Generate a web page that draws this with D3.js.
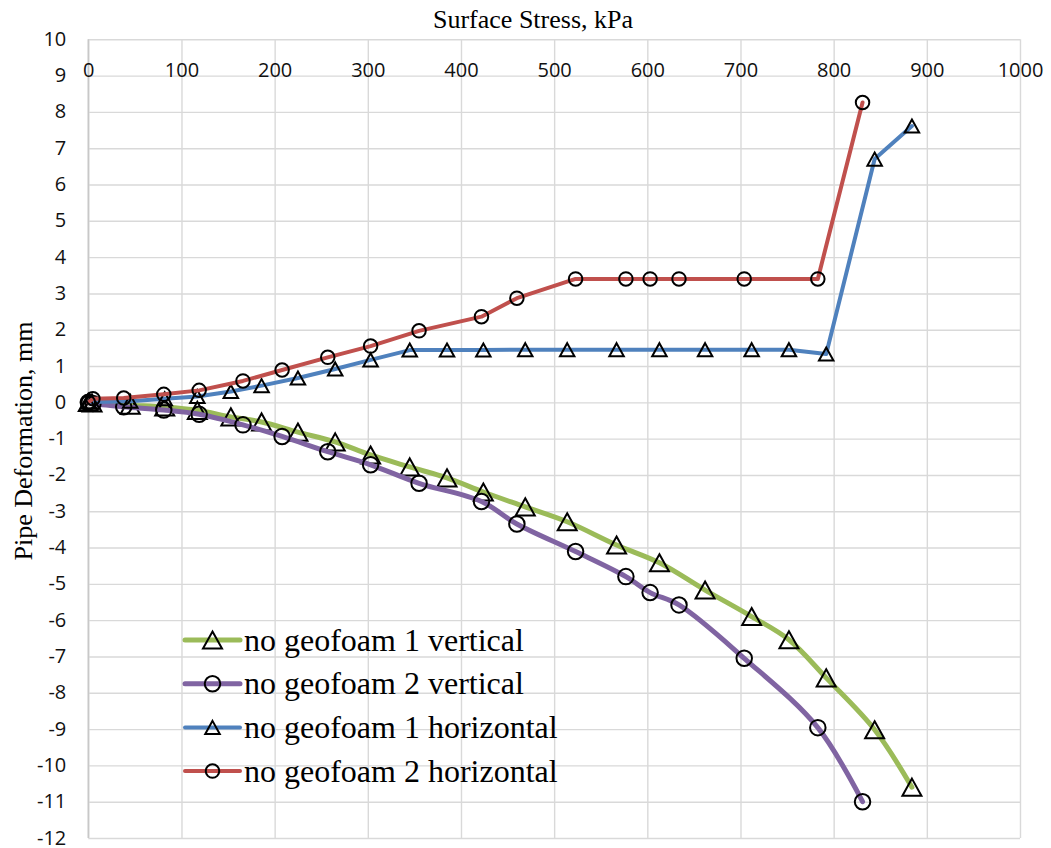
<!DOCTYPE html>
<html>
<head>
<meta charset="utf-8">
<script src="https://cdn.jsdelivr.net/npm/d3@7"></script>
<style>
	body { margin: 0; background: #fff; }
	.tick-lbl text { font-family: "Open Sans", sans-serif; font-size: 20px; fill: #111; }
	.serif { font-family: "Times New Roman", "Liberation Serif", serif; fill: #000; }
</style>
</head>
<body>
<div id="chart"></div>
<script>
// Surface stress (kPa) for the "no geofoam 1" test
const stress1 = [0, 4, 45, 82, 117, 153, 186, 225, 265, 303, 345, 385, 424, 469, 514, 567, 613, 662, 712, 752, 792, 844, 884];
const vertical1 = [0, -0.02, -0.08, -0.13, -0.22, -0.4, -0.54, -0.82, -1.09, -1.45, -1.78, -2.08, -2.47, -2.88, -3.29, -3.93, -4.42, -5.17, -5.9, -6.54, -7.59, -9.02, -10.6];
const horizontal1 = [0, 0.01, 0.03, 0.1, 0.16, 0.3, 0.46, 0.67, 0.92, 1.17, 1.44, 1.44, 1.44, 1.45, 1.45, 1.45, 1.45, 1.45, 1.45, 1.45, 1.33, 6.7, 7.61];

// Surface stress (kPa) for the "no geofoam 2" test
const stress2 = [0, 5, 38, 81, 119, 166, 208, 257, 303, 355, 422, 460, 523, 577, 603, 634, 704, 783, 831];
const vertical2 = [0, -0.03, -0.12, -0.21, -0.33, -0.62, -0.94, -1.36, -1.72, -2.23, -2.73, -3.35, -4.11, -4.8, -5.24, -5.58, -7.05, -8.96, -11.0];
const horizontal2 = [0, 0.1, 0.12, 0.22, 0.33, 0.59, 0.89, 1.24, 1.55, 1.97, 2.36, 2.87, 3.4, 3.4, 3.4, 3.4, 3.4, 3.4, 8.26];

const xTicks = d3.range(0, 1001, 100);
const yTicks = d3.range(-12, 11, 1);

const seriesNames = ["no geofoam 1 vertical", "no geofoam 2 vertical", "no geofoam 1 horizontal", "no geofoam 2 horizontal"];

var width = 1051;
var height = 848;
var margin = { top: 39.3, right: 31, bottom: 10, left: 88.3 };

var series = [
	{ name: seriesNames[0], xs: stress1, ys: vertical1, color: "#9BBB59", lw: 5, marker: "tri", size: 19, smooth: true },
	{ name: seriesNames[1], xs: stress2, ys: vertical2, color: "#8064A2", lw: 5, marker: "circle", size: 15.5, smooth: true },
	{ name: seriesNames[2], xs: stress1, ys: horizontal1, color: "#4F81BD", lw: 4, marker: "tri", size: 14.5, smooth: false },
	{ name: seriesNames[3], xs: stress2, ys: horizontal2, color: "#C0504D", lw: 4, marker: "circle", size: 13.5, smooth: false },
];

var svg = d3.select("#chart").append("svg")
	.attr("width", width)
	.attr("height", height);

var x = d3.scaleLinear().domain([0, 1000]).range([margin.left, width - margin.right]);
var y = d3.scaleLinear().domain([-12, 10]).range([height - margin.bottom, margin.top]);

// plain labels, hyphen minus like the original
var plain = function(d) { return String(d); };

// gridlines
svg.append("g")
	.attr("transform", "translate(0," + margin.top + ")")
	.call(d3.axisBottom(x).tickValues(xTicks).tickSize(y(-12) - margin.top).tickFormat(""))
	.call(g => g.select(".domain").remove())
	.selectAll("line").attr("stroke", "#D9D9D9").attr("stroke-width", 1.4);

svg.append("g")
	.attr("transform", "translate(" + margin.left + ",0)")
	.call(d3.axisRight(y).tickValues(yTicks).tickSize(x(1000) - margin.left).tickFormat(""))
	.call(g => g.select(".domain").remove())
	.selectAll("line").attr("stroke", "#D9D9D9").attr("stroke-width", 1.4);

// vertical axis line
svg.append("line")
	.attr("x1", x(0)).attr("x2", x(0))
	.attr("y1", y(10)).attr("y2", y(-12))
	.attr("stroke", "#C8C8C8").attr("stroke-width", 1.6);

// tick labels
svg.append("g")
	.attr("class", "tick-lbl")
	.attr("transform", "translate(0," + margin.top + ")")
	.call(d3.axisBottom(x).tickValues(xTicks).tickSize(0).tickPadding(24).tickFormat(plain))
	.call(g => g.select(".domain").remove())
	.selectAll("text").attr("font-size", null).attr("font-family", null);

svg.append("g")
	.attr("class", "tick-lbl")
	.attr("transform", "translate(" + margin.left + ",0)")
	.call(d3.axisLeft(y).tickValues(yTicks).tickSize(0).tickPadding(22).tickFormat(plain))
	.call(g => g.select(".domain").remove())
	.selectAll("text").attr("font-size", null).attr("font-family", null).attr("dy", "0.3em");

// markers
function markerPath(type, size) {
	if (type === "tri") {
		var w = size, h = size * 0.9;
		return "M0," + (-h / 2) + "L" + (w / 2) + "," + (h / 2) + "L" + (-w / 2) + "," + (h / 2) + "Z";
	}
	var r = size / 2;
	return "M" + r + ",0A" + r + "," + r + " 0 1,1 " + (-r) + ",0A" + r + "," + r + " 0 1,1 " + r + ",0Z";
}

series.forEach(function(s) {
	var pts = s.xs.map(function(d, i) { return [d, s.ys[i]]; });
	var line = d3.line()
		.x(d => x(d[0]))
		.y(d => y(d[1]))
		.curve(s.smooth ? d3.curveCatmullRom.alpha(0.5) : d3.curveLinear);

	svg.append("path")
		.datum(pts)
		.attr("d", line)
		.attr("fill", "none")
		.attr("stroke", s.color)
		.attr("stroke-width", s.lw)
		.attr("stroke-linejoin", "round")
		.attr("stroke-linecap", "round");

	svg.append("g").selectAll("path")
		.data(pts)
		.join("path")
		.attr("d", markerPath(s.marker, s.size))
		.attr("transform", d => "translate(" + x(d[0]) + "," + y(d[1]) + ")")
		.attr("fill", "none")
		.attr("stroke", "#000")
		.attr("stroke-width", 2);
});

// legend
var legend = svg.append("g").attr("transform", "translate(185,640)");
series.forEach(function(s, i) {
	var row = legend.append("g").attr("transform", "translate(0," + (i * 43.7) + ")");
	row.append("line")
		.attr("x1", 0).attr("x2", 55)
		.attr("stroke", s.color).attr("stroke-width", s.lw)
		.attr("stroke-linecap", "round");
	row.append("path")
		.attr("d", markerPath(s.marker, s.size))
		.attr("transform", "translate(27.5,0)")
		.attr("fill", "none").attr("stroke", "#000").attr("stroke-width", 2);
	row.append("text")
		.attr("class", "serif")
		.attr("x", 59)
		.attr("y", 10.5)
		.attr("font-size", "32px")
		.text(s.name);
});

// titles
svg.append("text")
	.attr("class", "serif")
	.attr("x", 533).attr("y", 28)
	.attr("text-anchor", "middle")
	.attr("font-size", "26px")
	.text("Surface Stress, kPa");

svg.append("text")
	.attr("class", "serif")
	.attr("transform", "translate(32,441) rotate(-90)")
	.attr("text-anchor", "middle")
	.attr("font-size", "26px")
	.text("Pipe Deformation, mm");
</script>
</body>
</html>
